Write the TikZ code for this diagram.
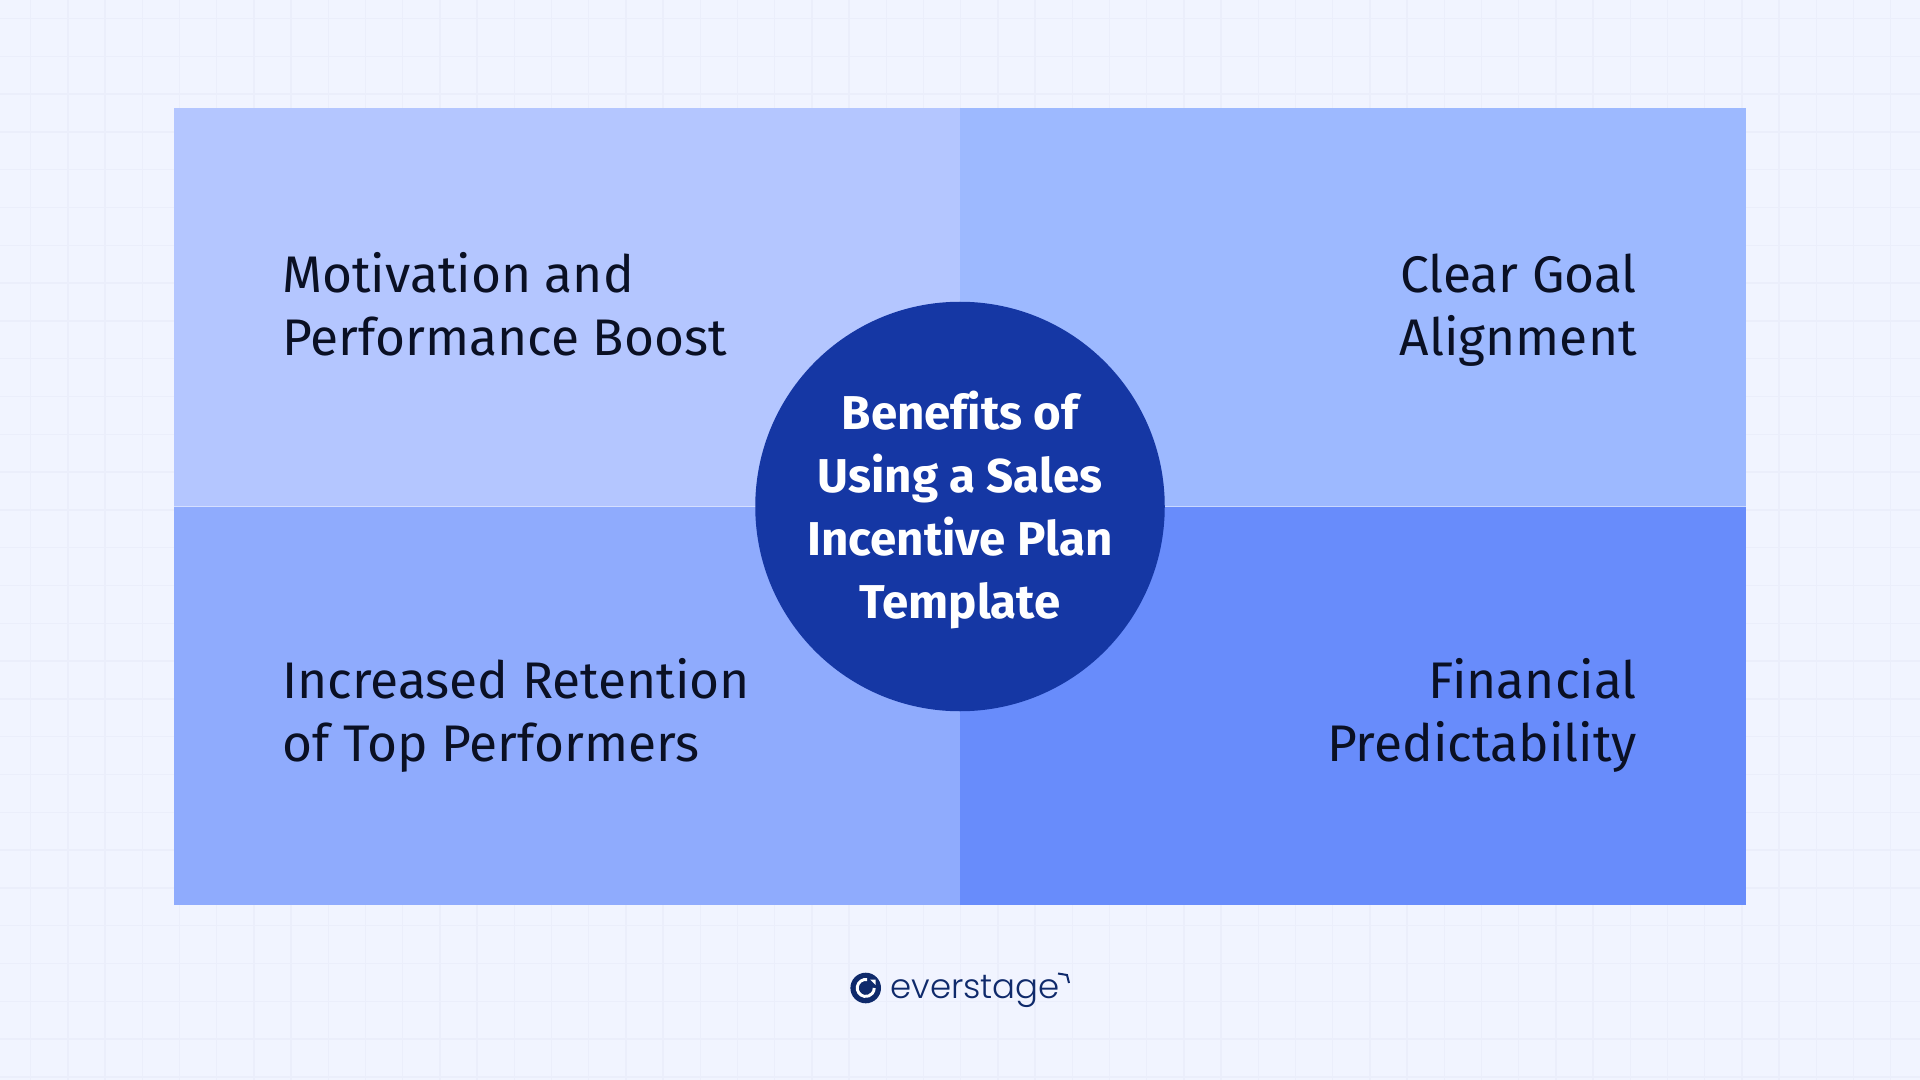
\documentclass[tikz,border=0pt]{standalone}
\usepackage{fontspec}
\setmainfont{Fira Sans}[Ligatures=CommonOff]
\newfontfamily\logofont{Poppins Light}
\definecolor{bgc}{HTML}{F1F4FF}
\definecolor{gridc}{HTML}{EBEEFB}
\definecolor{tlc}{HTML}{B4C6FF}
\definecolor{trc}{HTML}{9DB9FF}
\definecolor{blc}{HTML}{8FABFD}
\definecolor{brc}{HTML}{688CFB}
\definecolor{circc}{HTML}{1537A4}
\definecolor{inkc}{HTML}{0A1024}
\definecolor{logoc}{HTML}{0F2A6B}
\tikzset{
  x=0.75pt,y=-0.75pt,
  lefttext/.style={anchor=west,align=left,inner sep=0pt,text=inkc,font=\fontsize{38.6}{47.2}\selectfont},
  righttext/.style={anchor=east,align=right,inner sep=0pt,text=inkc,font=\fontsize{38.6}{47.2}\selectfont},
  gridline/.style={draw=gridc,line width=1pt},
}
\begin{document}
\begin{tikzpicture}
\useasboundingbox (0,0) rectangle (1920,1080);
\fill[bgc] (0,0) rectangle (1920,1080);
\foreach \i in {0,...,51} \draw[gridline] ({30.7+37.2*\i},0) -- ({30.7+37.2*\i},1080);
\foreach \i in {0,...,28} \draw[gridline] (0,{18.5+37.8*\i}) -- (1920,{18.5+37.8*\i});
\fill[tlc] (174,108) rectangle (960,506.5);
\fill[trc] (960,108) rectangle (1746,506.5);
\fill[blc] (174,506.5) rectangle (960,905);
\fill[brc] (960,506.5) rectangle (1746,905);
\draw[white,opacity=.45,line width=.75pt] (174,506.5) -- (1746,506.5);
\node[lefttext] (tl) at (282,311) {\strut Motivation and\\\strut Performance Boost};
\node[righttext] (tr) at (1637,311) {\strut Clear Goal\\\strut Alignment};
\node[lefttext] (bl) at (282,717) {\strut Increased Retention\\\strut of Top Performers};
\node[righttext] (br) at (1637,717) {\strut Financial\\\strut Predictability};
\node[circle,fill=circc,minimum size=409.5pt*0.75,inner sep=0pt] (hub) at (960,506.5) {};
\node[inner sep=0pt,text=white,align=center,font=\fontsize{35.6}{47.2}\selectfont\bfseries] (hubtext) at (960,511.5) {\strut Benefits of\\\strut Using a Sales\\\strut Incentive Plan\\\strut Template};
% logo
\fill[logoc] (865.7,988) circle (15.3);
\draw[white,line width=2.2pt] (867.2,979.6) arc[start angle=-80,end angle=-360,radius=8.5];
\fill[white] (870,979.5) -- (875.5,979.5) -- (875.5,985) -- cycle;
\node[anchor=base west,inner sep=0pt,text=logoc,font=\fontsize{25.5}{30}\logofont] (logo) at (890,998) {everstage};
\draw[logoc,line width=1.5pt] (1058,973.5) -- (1067,975) -- (1069,983);
\end{tikzpicture}
\end{document}
